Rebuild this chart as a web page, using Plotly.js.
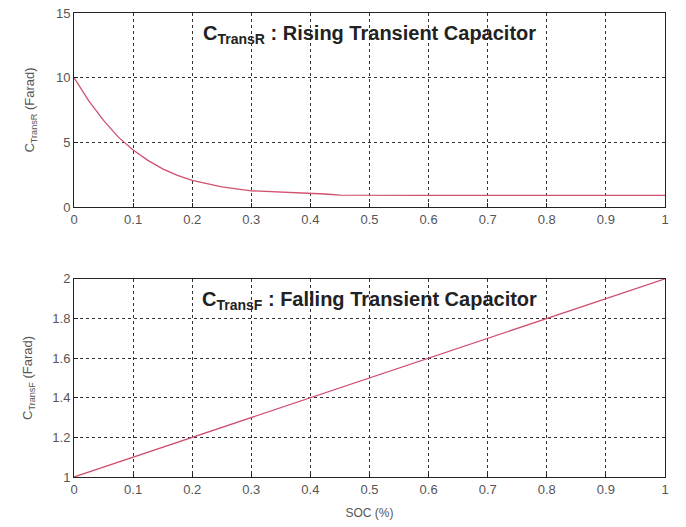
<!DOCTYPE html>
<html><head><meta charset="utf-8">
<script src="https://cdn.plot.ly/plotly-3.0.1.min.js"></script>
<style>html,body{margin:0;padding:0;background:#fff}</style>
</head><body><div id="chart" style="width:686px;height:527px"></div>
<script>
const socR = [0, 0.025, 0.05, 0.075, 0.1, 0.125, 0.15, 0.175, 0.2, 0.25, 0.3, 0.35, 0.4, 0.425, 0.45, 0.5, 0.6, 0.7, 0.8, 0.9, 1.0];
const cTransR = [10, 8.2, 6.7, 5.4, 4.4, 3.6, 2.95, 2.45, 2.05, 1.55, 1.25, 1.15, 1.08, 1.0, 0.92, 0.9, 0.9, 0.9, 0.9, 0.9, 0.9];
const socF = [0, 0.1, 0.2, 0.3, 0.4, 0.5, 0.6, 0.7, 0.8, 0.9, 1.0];
const cTransF = [1.0, 1.1, 1.2, 1.3, 1.4, 1.5, 1.6, 1.7, 1.8, 1.9, 2.0];
const xTicks = [0, 0.1, 0.2, 0.3, 0.4, 0.5, 0.6, 0.7, 0.8, 0.9, 1];
const xTickText = ['0','0.1','0.2','0.3','0.4','0.5','0.6','0.7','0.8','0.9','1'];
const yTicksR = [0, 5, 10, 15];
const yTicksF = [1, 1.2, 1.4, 1.6, 1.8, 2];
const yTickTextF = ['1','1.2','1.4','1.6','1.8','2'];

const lineColor = '#d0506e';
const fam = 'Liberation Sans, Arial, sans-serif';
const tickFont = {family: fam, size: 13, color: '#555'};
const common = {
  showline: true, mirror: true, linecolor: '#222', linewidth: 1,
  showgrid: true, gridcolor: '#333', griddash: 'dot', gridwidth: 1,
  ticks: 'inside', ticklen: 4, tickcolor: '#222',
  zeroline: false, tickfont: tickFont
};
const traces = [
  {x: socR, y: cTransR, type: 'scatter', mode: 'lines', line: {color: lineColor, width: 1.3}, xaxis: 'x', yaxis: 'y', showlegend: false},
  {x: socF, y: cTransF, type: 'scatter', mode: 'lines', line: {color: lineColor, width: 1.3}, xaxis: 'x2', yaxis: 'y2', showlegend: false}
];
const layout = {
  width: 686, height: 527,
  margin: {l: 74, r: 21, t: 13, b: 50},
  paper_bgcolor: '#fff', plot_bgcolor: '#fff',
  xaxis: Object.assign({}, common, {domain: [0, 1], range: [0, 1], tickvals: xTicks, ticktext: xTickText, anchor: 'y'}),
  yaxis: Object.assign({}, common, {domain: [0.582, 1], range: [0, 15], tickvals: yTicksR, anchor: 'x',
    title: {text: 'C<sub>TransR</sub> (Farad)', font: {family: fam, size: 13, color: '#555'}, standoff: 18}}),
  xaxis2: Object.assign({}, common, {domain: [0, 1], range: [0, 1], tickvals: xTicks, ticktext: xTickText, anchor: 'y2',
    title: {text: 'SOC (%)', font: {family: fam, size: 12, color: '#555'}, standoff: 13}}),
  yaxis2: Object.assign({}, common, {domain: [0, 0.427], range: [1, 2], tickvals: yTicksF, ticktext: yTickTextF, anchor: 'x2',
    title: {text: 'C<sub>TransF</sub> (Farad)', font: {family: fam, size: 13, color: '#555'}, standoff: 16}}),
  annotations: [
    {xref: 'x', yref: 'y', x: 0.5, y: 13.3, text: '<b>C<sub>TransR</sub> : Rising Transient Capacitor</b>', showarrow: false,
     font: {family: fam, size: 20, color: '#222'}},
    {xref: 'x2', yref: 'y2', x: 0.5, y: 1.89, text: '<b>C<sub>TransF</sub> : Falling Transient Capacitor</b>', showarrow: false,
     font: {family: fam, size: 20, color: '#222'}}
  ]
};
Plotly.newPlot('chart', traces, layout, {displayModeBar: false, staticPlot: true});
</script></body></html>
